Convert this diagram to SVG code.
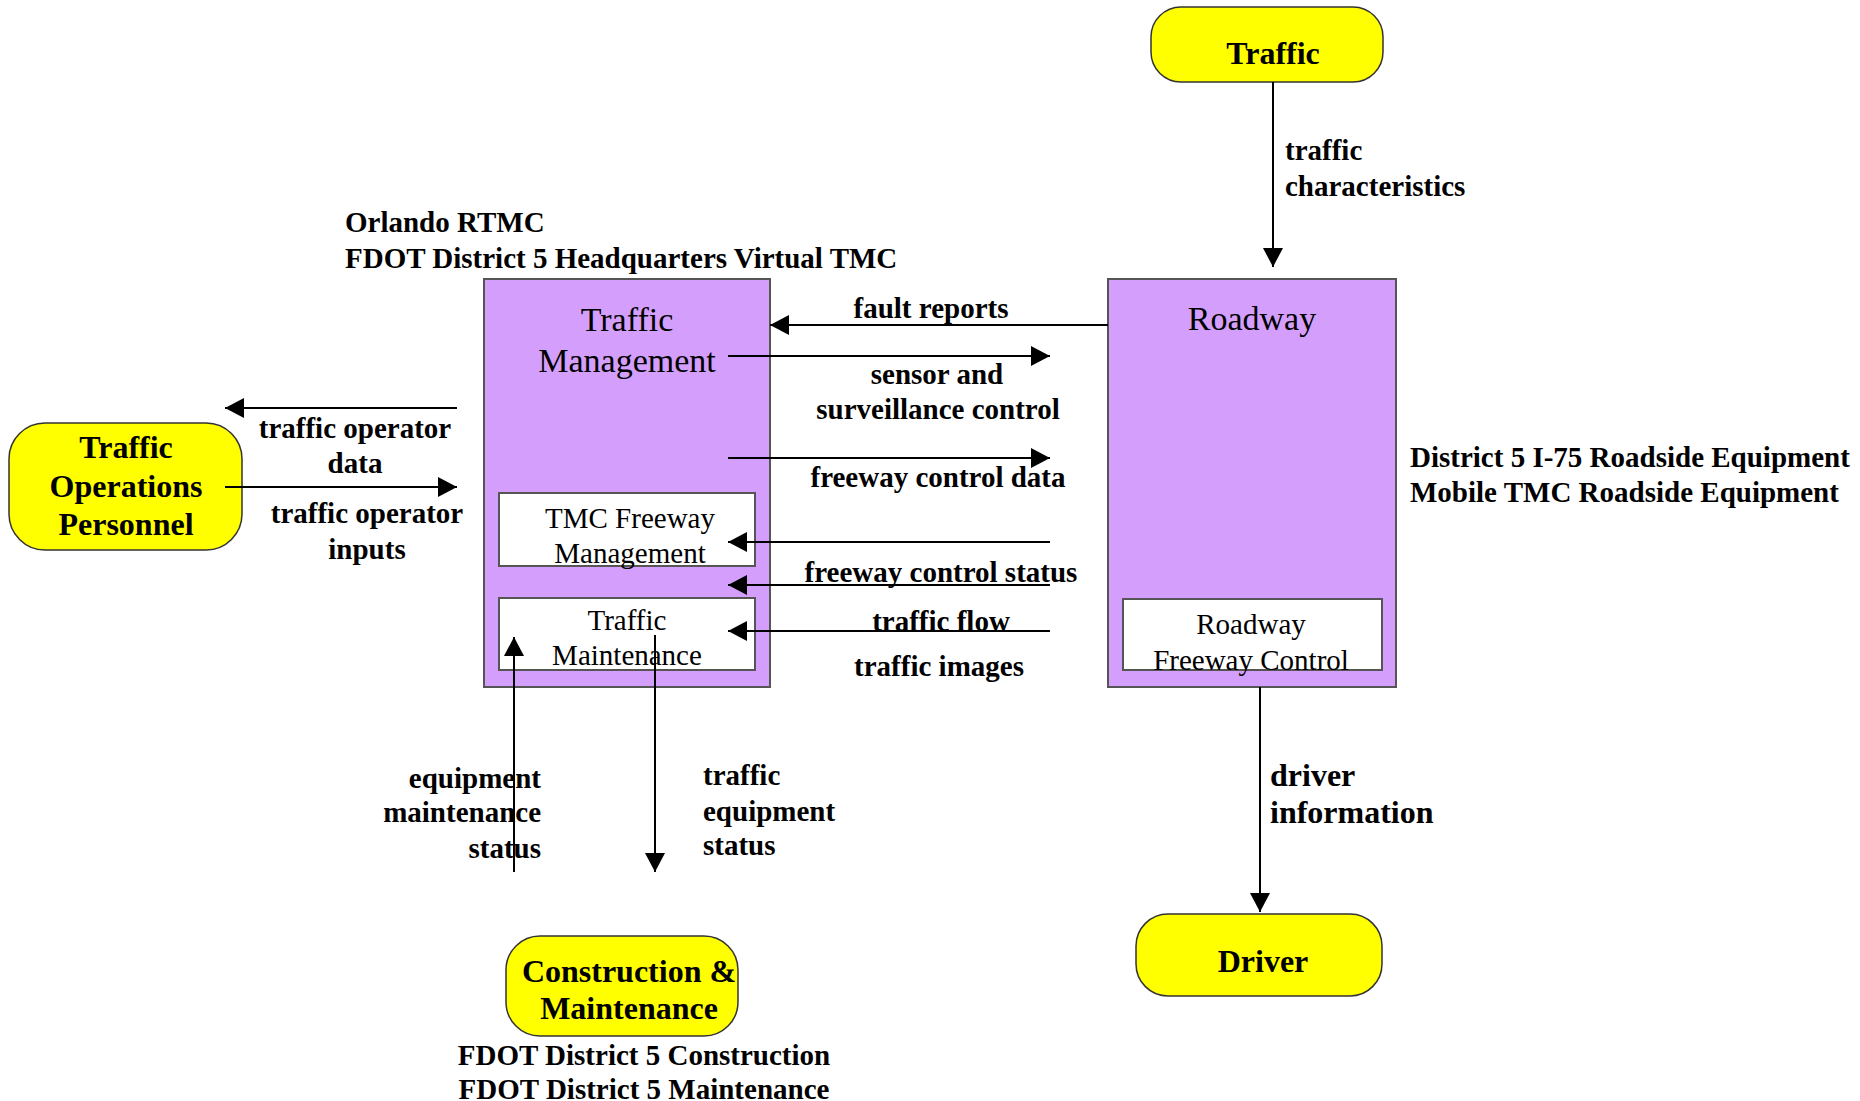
<svg xmlns="http://www.w3.org/2000/svg" width="1860" height="1101" viewBox="0 0 1860 1101">
<defs>
<marker id="ah" markerUnits="userSpaceOnUse" markerWidth="20" markerHeight="20" refX="19" refY="10" orient="auto" viewBox="0 0 20 20">
<path d="M0,0 L19,10 L0,20 z" fill="#000"/>
</marker>
<style>
.ext{fill:#FFFF00;stroke:#333;stroke-width:1.5}
.sys{fill:#D49FFC;stroke:#555;stroke-width:2}
.sub{fill:#fff;stroke:#555;stroke-width:2}
.ln{fill:none;stroke:#000;stroke-width:2;marker-end:url(#ah)}
.ln0{fill:none;stroke:#000;stroke-width:2}
text{font-family:"Liberation Serif","Times New Roman",serif;fill:#000}
.bt{font-weight:bold;font-size:32px;text-anchor:middle}
.st{font-size:34px;text-anchor:middle}
.it{font-size:29px;text-anchor:middle}
.lb{font-weight:bold;font-size:29px}
.lbm{font-weight:bold;font-size:29px;text-anchor:middle}
.lbe{font-weight:bold;font-size:29px;text-anchor:end}
.lbb{font-weight:bold;font-size:32px}
</style>
</defs>
<rect width="1860" height="1101" fill="#fff"/>

<g id="traffic">
<rect class="ext" x="1151" y="7" width="232" height="75" rx="30" ry="30"/>
<text class="bt" x="1273" y="64">Traffic</text>
</g>

<g id="roadway">
<rect class="sys" x="1108" y="279" width="288" height="408"/>
<text class="st" x="1252" y="330">Roadway</text>
<rect class="sub" x="1123" y="599" width="259" height="71"/>
<text class="it" x="1251" y="634">Roadway</text>
<text class="it" x="1251" y="670">Freeway Control</text>
</g>

<g id="traffic-management">
<rect class="sys" x="484" y="279" width="286" height="408"/>
<text class="st" x="627" y="331">Traffic</text>
<text class="st" x="627" y="372">Management</text>
<rect class="sub" x="499" y="493" width="256" height="73"/>
<text class="it" x="630" y="528">TMC Freeway</text>
<text class="it" x="630" y="563">Management</text>
<rect class="sub" x="499" y="598" width="256" height="72"/>
<text class="it" x="627" y="630">Traffic</text>
<text class="it" x="627" y="665">Maintenance</text>
</g>

<g id="traffic-operations-personnel">
<rect class="ext" x="9" y="423" width="233" height="127" rx="36" ry="36"/>
<text class="bt" x="126" y="458">Traffic</text>
<text class="bt" x="126" y="497">Operations</text>
<text class="bt" x="126" y="535">Personnel</text>
</g>

<g id="construction-maintenance">
<rect class="ext" x="506" y="936" width="232" height="100" rx="34" ry="34"/>
<text class="bt" x="629" y="982">Construction &amp;</text>
<text class="bt" x="629" y="1019">Maintenance</text>
</g>

<g id="driver">
<rect class="ext" x="1136" y="914" width="246" height="82" rx="32" ry="32"/>
<text class="bt" x="1263" y="972">Driver</text>
</g>

<g id="annotations">
<text class="lb" x="345" y="232">Orlando RTMC</text>
<text class="lb" x="345" y="268">FDOT District 5 Headquarters Virtual TMC</text>
<text class="lb" x="1410" y="467">District 5 I-75 Roadside Equipment</text>
<text class="lb" x="1410" y="502">Mobile TMC Roadside Equipment</text>
<text class="lbm" x="644" y="1065">FDOT District 5 Construction</text>
<text class="lbm" x="644" y="1099">FDOT District 5 Maintenance</text>
</g>

<g id="connectors">
<line class="ln" x1="1273" y1="82" x2="1273" y2="267"/>
<text class="lb" x="1285" y="160">traffic</text>
<text class="lb" x="1285" y="196">characteristics</text>

<line class="ln" x1="457" y1="408" x2="225" y2="408"/>
<text class="lbm" x="355" y="438">traffic operator</text>
<text class="lbm" x="355" y="473">data</text>

<line class="ln" x1="225" y1="487" x2="457" y2="487"/>
<text class="lbm" x="367" y="523">traffic operator</text>
<text class="lbm" x="367" y="559">inputs</text>

<line class="ln" x1="1108" y1="325" x2="770" y2="325"/>
<text class="lbm" x="931" y="318">fault reports</text>

<line class="ln" x1="728" y1="356" x2="1050" y2="356"/>
<text class="lbm" x="937" y="384">sensor and</text>
<text class="lbm" x="938" y="419">surveillance control</text>

<line class="ln" x1="728" y1="458" x2="1050" y2="458"/>
<text class="lbm" x="938" y="487">freeway control data</text>

<line class="ln" x1="1050" y1="542" x2="728" y2="542"/>
<line class="ln" x1="1050" y1="585" x2="728" y2="585"/>
<text class="lbm" x="941" y="582">freeway control status</text>

<line class="ln" x1="1050" y1="631" x2="728" y2="631"/>
<text class="lbm" x="941" y="631">traffic flow</text>
<text class="lbm" x="939" y="676">traffic images</text>

<line class="ln" x1="514" y1="872" x2="514" y2="637"/>
<text class="lbe" x="541" y="788">equipment</text>
<text class="lbe" x="541" y="822">maintenance</text>
<text class="lbe" x="541" y="858">status</text>

<line class="ln" x1="655" y1="635" x2="655" y2="872"/>
<text class="lb" x="703" y="785">traffic</text>
<text class="lb" x="703" y="821">equipment</text>
<text class="lb" x="703" y="855">status</text>

<line class="ln" x1="1260" y1="687" x2="1260" y2="912"/>
<text class="lbb" x="1270" y="786">driver</text>
<text class="lbb" x="1270" y="823">information</text>
</g>
</svg>
